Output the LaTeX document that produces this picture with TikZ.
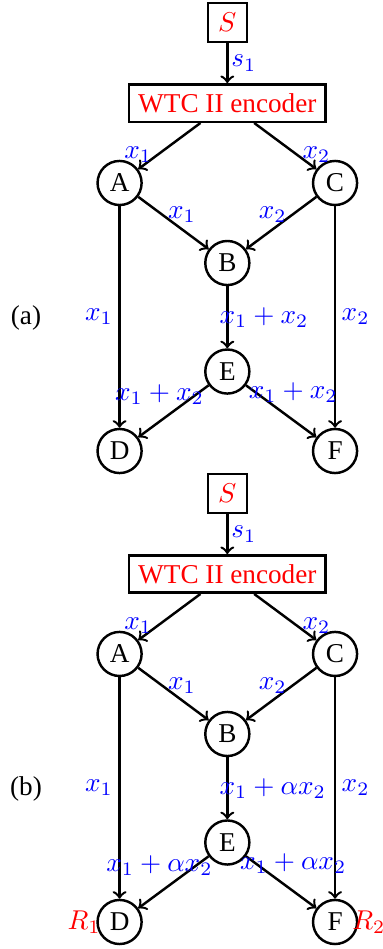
\documentclass[tikz,border=0pt]{standalone}
\usepackage[no-math]{fontspec}
\setmainfont{Liberation Serif}
\usetikzlibrary{positioning}

\tikzset{
  st/.style={draw, circle, inner sep=1pt, minimum size=16.2pt},
  box/.style={draw, text=red},
  lbl/.style={text=blue, inner sep=2pt}
}

\begin{document}
\begin{tikzpicture}[>=to, line width=0.9pt]
  \useasboundingbox (0,0) rectangle (4.948,-12.261);
  \foreach \p/\dy/\sm in {a/0/x_1+x_2, b/-6.085/x_1+\alpha x_2} {
    \begin{scope}[yshift=\dy cm]
      \node[box, minimum size=14.3pt] (S\p) at (2.937,-0.291) {$S$};
      \node[box] (enc\p) at (2.937,-1.331) {WTC II encoder};
      \node[st] (A\p) at (1.545,-2.364) {A};
      \node[st] (C\p) at (4.329,-2.364) {C};
      \node[st] (B\p) at (2.937,-3.398) {B};
      \node[st] (E\p) at (2.937,-4.800) {E};
      \node[st] (D\p) at (1.545,-5.827) {D};
      \node[st] (F\p) at (4.329,-5.827) {F};
      \node (lbl\p) at (0.336,-4.109) {(\p)};

      \draw[->] (S\p) -- node[lbl, midway, right, inner sep=1pt] {$s_1$} (enc\p);
      \draw[->] (enc\p) -- node[lbl, at end, above] {$x_1$} (A\p);
      \draw[->] (enc\p) -- node[lbl, at end, above] {$x_2$} (C\p);
      \draw[->] (A\p) -- node[lbl, pos=0.62, above] {$x_1$} (B\p);
      \draw[->] (C\p) -- node[lbl, pos=0.62, above] {$x_2$} (B\p);
      \draw[->] (A\p) -- node[lbl, midway, left] {$x_1$} (D\p);
      \draw[->] (C\p) -- node[lbl, midway, right] {$x_2$} (F\p);
      \draw[->] (B\p) -- node[lbl, midway, anchor=west, xshift=-5.3pt] {$\sm$} (E\p);
      \draw[->] (E\p) -- node[lbl, pos=0.7, above=4pt] {$\sm$} (D\p);
      \draw[->] (E\p) -- node[lbl, pos=0.67, above=4pt] {$\sm$} (F\p);
    \end{scope}
  }
  % receivers
  \node[red, inner sep=0pt, left=-2pt of Db] (R1) {$R_1$};
  \node[red, inner sep=0pt, right=-2.6pt of Fb] (R2) {$R_2$};
\end{tikzpicture}
\end{document}
